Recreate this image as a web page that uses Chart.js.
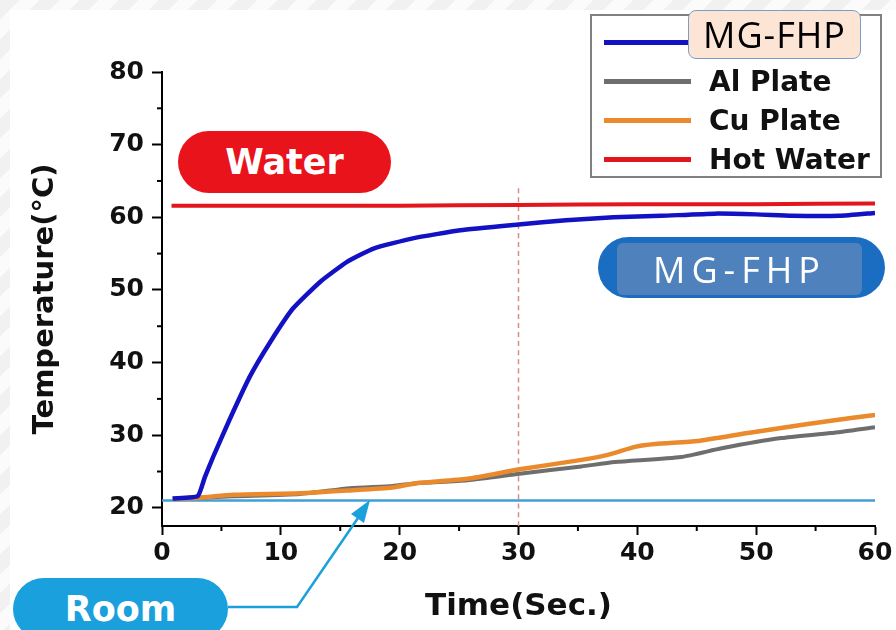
<!DOCTYPE html>
<html>
<head>
<meta charset="utf-8">
<script src="https://cdn.jsdelivr.net/npm/chart.js@4.4.1/dist/chart.umd.min.js"></script>
<style>
  body { margin: 0; }
  #wrap {
    position: relative; width: 896px; height: 630px; overflow: hidden;
    background: repeating-linear-gradient(135deg, #f1f1f1 0 14px, #fbfbfb 14px 28px);
  }
  #panel { position: absolute; left: 10px; top: 10px; right: 0; bottom: 0; background: #fff; }
  #chart { position: absolute; left: 0; top: 0; }
  .pill {
    position: absolute; color: #fff; font-family: 'DejaVu Sans', sans-serif; font-weight: bold;
    display: flex; align-items: center; justify-content: center;
  }
  #legend {
    position: absolute; left: 590px; top: 14px; width: 288px; height: 160px;
    border: 2px solid #808080; background: #fff;
  }
  .row { position: absolute; left: 0; height: 36px; display: flex; align-items: center; }
  .row .sw { width: 87px; height: 5px; margin-left: 12px; margin-right: 18px; }
  .row span { font-family: 'DejaVu Sans', sans-serif; font-weight: bold; font-size: 28px; color: #111; }
</style>
</head>
<body>
<div id="wrap">
  <div id="panel"></div>
  <canvas id="chart" width="896" height="630"></canvas>
  <div class="pill" style="left:178px;top:131px;width:213px;height:62px;border-radius:31px;background:#e8131b;font-size:35px;">Water</div>
  <div class="pill" style="left:598px;top:237px;width:287px;height:61px;border-radius:31px;background:#1b6dc1;"></div>
  <div class="pill" style="left:617px;top:243px;width:245px;height:52px;border-radius:6px;background:#4f81bd;font-family:'Open Sans',sans-serif;font-weight:normal;font-size:36px;letter-spacing:6px;">MG-FHP</div>
  <div class="pill" style="left:13px;top:578px;width:215px;height:62px;border-radius:31px;background:#1aa0dc;font-size:35px;">Room</div>
  <svg style="position:absolute;left:0;top:0" width="896" height="630">
    <polyline points="228,607 297,607 358,518" fill="none" stroke="#1aa0dc" stroke-width="2.5"/>
    <polygon points="370,500 364,523 351,514" fill="#1aa0dc"/>
  </svg>
  <div id="legend"></div>
  <div class="pill" style="left:688px;top:10px;width:171px;height:47px;border-radius:8px;background:#fce5d4;border:1.5px solid #7f9cc4;color:#000;font-family:'Open Sans',sans-serif;font-weight:normal;font-size:36px;letter-spacing:1px;">MG-FHP</div>
</div>
<script>
// Values
const timeMG = [0.9, 3.0, 3.6, 4.3, 5.7, 7.4, 9.1, 11.0, 13.3, 15.6, 17.8, 21.1, 25.1, 30, 34, 38, 42, 46.5, 50, 53, 57, 60];
const tempMG = [21.3, 21.6, 24.2, 27.0, 32.2, 38.1, 42.8, 47.4, 51.1, 53.9, 55.7, 57.1, 58.2, 59.0, 59.6, 60.0, 60.2, 60.5, 60.4, 60.2, 60.2, 60.6];

const timeAl = [0.9, 3.2, 6, 11.6, 15.8, 19.4, 21.4, 25.7, 30.1, 35.3, 38.1, 43.7, 47.1, 52.1, 56.3, 60];
const tempAl = [21.3, 21.4, 21.6, 21.9, 22.7, 23.0, 23.4, 23.8, 24.7, 25.7, 26.3, 27.0, 28.2, 29.6, 30.3, 31.1];

const timeCu = [0.9, 3.2, 6, 11.6, 15.8, 19.4, 21.4, 25.7, 30.1, 35.3, 37.5, 39.8, 41.5, 45.1, 49.3, 52.1, 56.3, 60];
const tempCu = [21.2, 21.4, 21.8, 22.0, 22.4, 22.8, 23.4, 24.0, 25.3, 26.6, 27.3, 28.4, 28.8, 29.2, 30.3, 31.0, 32.0, 32.8];

const timeHot = [0.8, 10, 20, 30, 40, 50, 60];
const tempHot = [61.6, 61.6, 61.6, 61.7, 61.8, 61.8, 61.9];

const timeRoom = [0, 60];
const tempRoom = [21.0, 21.0];

const markTime = [30, 30];
const markTemp = [64, 17.5];

const xTicks = [0, 10, 20, 30, 40, 50, 60];
const yTicks = [20, 30, 40, 50, 60, 70, 80];
const xMinor = [5, 15, 25, 35, 45, 55];
const yMinor = [25, 35, 45, 55, 65, 75];

const pts = (xs, ys) => xs.map((x, i) => ({ x: x, y: ys[i] }));

const minorTicks = {
    id: 'minorTicks',
    afterDraw(chart) {
        const { ctx, scales: { x, y } } = chart;
        ctx.save();
        ctx.strokeStyle = '#000';
        ctx.lineWidth = 2;
        xMinor.forEach(v => {
            const px = x.getPixelForValue(v);
            ctx.beginPath(); ctx.moveTo(px, x.top); ctx.lineTo(px, x.top + 5); ctx.stroke();
        });
        yMinor.forEach(v => {
            const py = y.getPixelForValue(v);
            ctx.beginPath(); ctx.moveTo(y.right, py); ctx.lineTo(y.right - 5, py); ctx.stroke();
        });
        ctx.restore();
    }
};

const tickFont = { family: "'DejaVu Sans', sans-serif", weight: 'bold', size: 25 };

const chart = new Chart(document.getElementById('chart'), {
    type: 'line',
    data: {
        datasets: [
            { label: 'MG-FHP', data: pts(timeMG, tempMG), borderColor: '#1212c4', borderWidth: 4.5, order: 0, tension: 0.15 },
            { label: 'Al Plate', data: pts(timeAl, tempAl), borderColor: '#6e6e6e', borderWidth: 4, order: 2 },
            { label: 'Cu Plate', data: pts(timeCu, tempCu), borderColor: '#ea8a2c', borderWidth: 4.5, order: 1 },
            { label: 'Hot Water', data: pts(timeHot, tempHot), borderColor: '#e3161e', borderWidth: 4, order: 3 },
            { label: 'Room', data: pts(timeRoom, tempRoom), borderColor: '#3f9fd8', borderWidth: 2.5, order: 4 },
            { label: '30 s', data: pts(markTime, markTemp), borderColor: '#d98b8b', borderWidth: 1.5, borderDash: [5, 4], order: 5 }
        ]
    },
    options: {
        responsive: false,
        animation: false,
        layout: { padding: { top: 72, right: 21, left: 0, bottom: 0 } },
        elements: { point: { radius: 0 }, line: { tension: 0.2 } },
        plugins: { legend: { display: false }, tooltip: { enabled: false } },
        scales: {
            x: {
                type: 'linear', min: 0, max: 60,
                ticks: { color: '#111', font: tickFont, padding: 3, maxRotation: 0 },
                afterBuildTicks(s) { s.ticks = xTicks.map(v => ({ value: v })); },
                grid: { drawOnChartArea: false, tickLength: 9, tickWidth: 2, tickColor: '#000' },
                border: { color: '#000', width: 2 },
                title: { display: true, text: 'Time(Sec.)', color: '#111', font: { family: "'DejaVu Sans', sans-serif", weight: 'bold', size: 31 }, padding: { top: 0, bottom: 4 } },
                afterFit(s) { s.height = 104; }
            },
            y: {
                min: 17.5, max: 80,
                ticks: { color: '#111', font: tickFont, padding: 8 },
                afterBuildTicks(s) { s.ticks = yTicks.map(v => ({ value: v })); },
                grid: { drawOnChartArea: false, tickLength: 10, tickWidth: 2, tickColor: '#000' },
                border: { color: '#000', width: 2 },
                title: { display: true, text: 'Temperature(°C)', color: '#111', font: { family: "'DejaVu Sans', sans-serif", weight: 'bold', size: 29 }, padding: { top: 28, bottom: 0 } },
                afterFit(s) { s.width = 162; }
            }
        }
    },
    plugins: [minorTicks]
});

// Legend box built from the first four datasets
const legend = document.getElementById('legend');
chart.data.datasets.slice(0, 4).forEach((ds, i) => {
    const row = document.createElement('div');
    row.className = 'row';
    row.style.top = (8 + i * 39) + 'px';
    row.innerHTML = '<div class="sw" style="background:' + ds.borderColor + '"></div><span>' + ds.label + '</span>';
    legend.appendChild(row);
});
</script>
</body>
</html>
